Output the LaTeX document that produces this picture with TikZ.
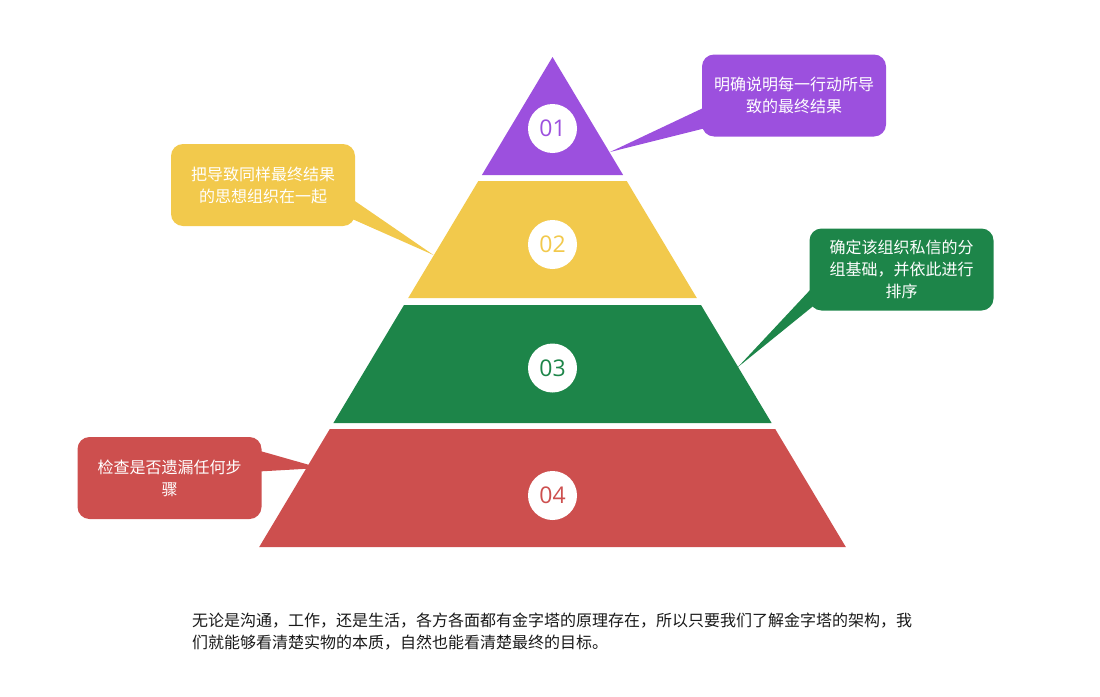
\documentclass[tikz,border=0pt]{standalone}
\usepackage{fontspec}
\setmainfont{Noto Sans CJK SC}
\newfontfamily\numfont{Open Sans}
\usetikzlibrary{calc}
\definecolor{cpurple}{HTML}{9C50DE}
\definecolor{cyellow}{HTML}{F2C94C}
\definecolor{cgreen}{HTML}{1D8549}
\definecolor{cred}{HTML}{CD4F4E}
\tikzset{
  callout/.style={rectangle, rounded corners=12pt, minimum width=184pt, minimum height=82pt,
    inner sep=0pt, text=white, align=center, font=\fontsize{16}{22}\selectfont},
  numcircle/.style={circle, fill=white, minimum size=49pt, inner sep=0pt,
    font=\numfont\fontsize{23}{23}\selectfont},
}
\begin{document}
\begin{tikzpicture}[x=1pt,y=-1pt]
\useasboundingbox (0,0) rectangle (1100,696);

% pyramid layers
\fill[cpurple] (552.5,57) -- (623.1,175) -- (481.9,175) -- cycle;
\fill[cyellow] (478.3,181) -- (626.7,181) -- (696.8,298) -- (408.2,298) -- cycle;
\fill[cgreen] (404.0,305) -- (701.0,305) -- (771.6,423) -- (333.4,423) -- cycle;
\fill[cred] (329.8,429) -- (775.2,429) -- (845.8,547) -- (259.2,547) -- cycle;

% callout boxes
\node[callout, fill=cpurple] (pbox) at (794,95.5) {明确说明每一行动所导\\致的最终结果};
\node[callout, fill=cyellow] (ybox) at (263,185) {把导致同样最终结果\\的思想组织在一起};
\node[callout, fill=cgreen] (gbox) at (901.5,269.5) {确定该组织私信的分\\组基础，并依此进行\\排序};
\node[callout, fill=cred] (rbox) at (169.5,478) {检查是否遗漏任何步\\骤};

% tails
\coordinate (ptip) at (610,152);
\coordinate (ytip) at (433.5,255);
\coordinate (gtip) at (738,367);
\coordinate (rtip) at (320,468);
\fill[cpurple] ($(pbox.west)+(12,7.5)$) -- (ptip) -- ($(pbox.west)+(12,30.5)$) -- cycle;
\fill[cyellow] ($(ybox.east)+(-12,8)$) -- (ytip) -- ($(ybox.east)+(-12,30)$) -- cycle;
\fill[cgreen] ($(gbox.west)+(12,8.5)$) -- (gtip) -- ($(gbox.west)+(12,30)$) -- cycle;
\fill[cred] ($(rbox.east)+(-12,-30)$) -- (rtip) -- ($(rbox.east)+(-12,-6)$) -- cycle;

% numbered circles
\node[numcircle, text=cpurple] (n1) at (552.5,128.5) {01};
\node[numcircle, text=cyellow] (n2) at (552.5,244.5) {02};
\node[numcircle, text=cgreen] (n3) at (552.5,368) {03};
\node[numcircle, text=cred] (n4) at (552.5,495.5) {04};

% bottom text
\node[anchor=west, inner sep=0pt, align=left, text=black!90, font=\fontsize{16}{22}\selectfont] (note) at (192,632)
{无论是沟通，工作，还是生活，各方各面都有金字塔的原理存在，所以只要我们了解金字塔的架构，我\\们就能够看清楚实物的本质，自然也能看清楚最终的目标。};
\end{tikzpicture}
\end{document}
